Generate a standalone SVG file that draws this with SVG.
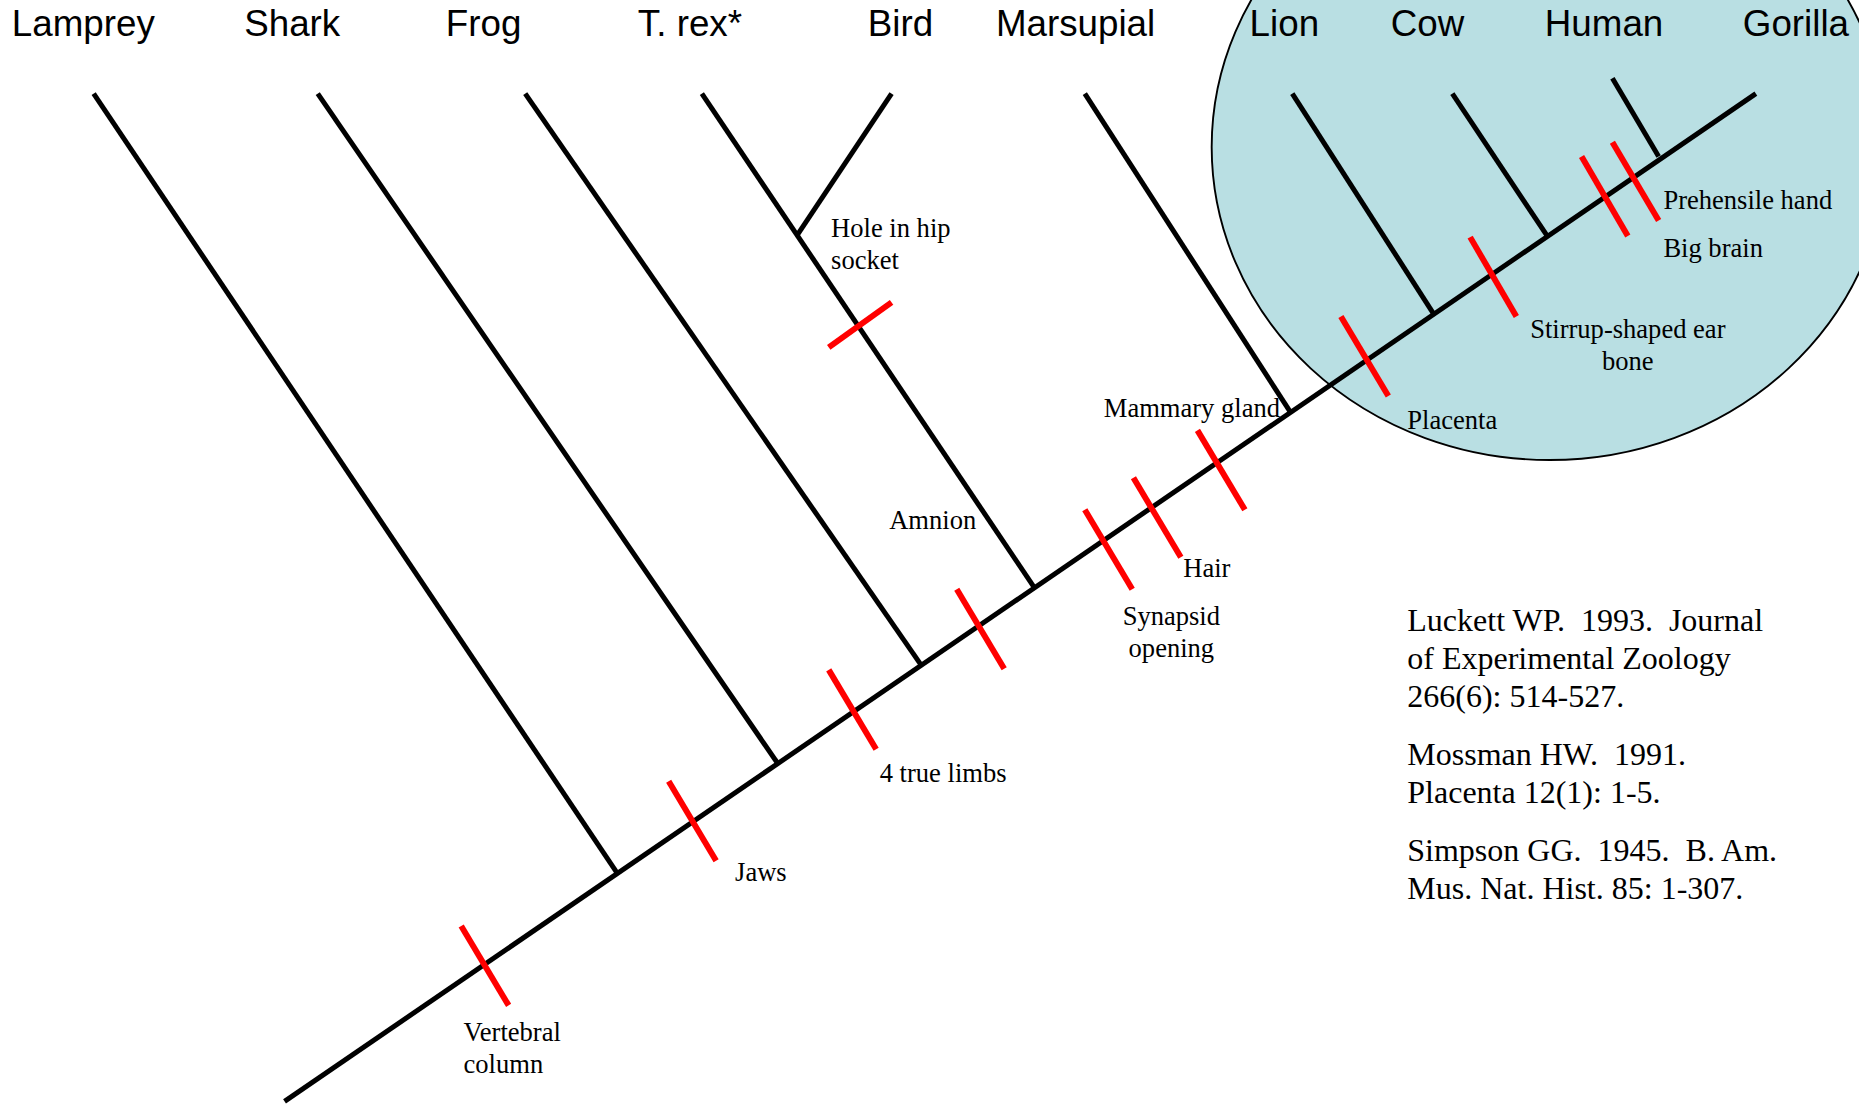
<svg xmlns="http://www.w3.org/2000/svg" width="1859" height="1105" viewBox="0 0 1859 1105">
<style>
.br{stroke:#000;stroke-width:4.2;fill:none;stroke-linecap:butt}
.tk{stroke:#ff0000;stroke-width:5;fill:none}
.tx{font-family:"Liberation Serif","Times New Roman",serif;font-size:22.4px;fill:#000}
.ref{font-family:"Liberation Serif","Times New Roman",serif;font-size:27px;fill:#000;white-space:pre}
.tl{font-family:"Liberation Sans",Arial,sans-serif;font-size:31px;fill:#000}
</style>
<rect width="1859" height="1105" fill="#fff"/>
<g transform="scale(1.18559)">
<g id="clade-highlight"><ellipse cx="1307" cy="124" rx="285" ry="264" fill="#b9dfe3" stroke="#000" stroke-width="1.6"/></g>
<g id="taxa">
<g id="lamprey"><text class="tl" x="10" y="30">Lamprey</text></g>
<g id="shark"><text class="tl" x="206" y="30">Shark</text></g>
<g id="frog"><text class="tl" x="376" y="30">Frog</text></g>
<g id="trex"><text class="tl" x="538" y="30">T. rex*</text></g>
<g id="bird"><text class="tl" x="732" y="30">Bird</text></g>
<g id="marsupial"><text class="tl" x="840" y="30">Marsupial</text></g>
<g id="lion"><text class="tl" x="1054" y="30">Lion</text></g>
<g id="cow"><text class="tl" x="1173" y="30">Cow</text></g>
<g id="human"><text class="tl" x="1303" y="30">Human</text></g>
<g id="gorilla"><text class="tl" x="1470" y="30">Gorilla</text></g>
</g>
<g id="connectors">
<line class="br" x1="240" y1="929" x2="1481" y2="79"/>
<line class="br" x1="79" y1="79" x2="521" y2="737"/>
<line class="br" x1="268" y1="79" x2="656" y2="644"/>
<line class="br" x1="443" y1="79" x2="777" y2="561"/>
<line class="br" x1="592" y1="79" x2="872" y2="495"/>
<line class="br" x1="752" y1="79" x2="672" y2="199"/>
<line class="br" x1="915" y1="79" x2="1088" y2="347"/>
<line class="br" x1="1090" y1="79" x2="1210" y2="266"/>
<line class="br" x1="1225" y1="79" x2="1305" y2="199"/>
<line class="br" x1="1360" y1="66" x2="1399" y2="132"/>
</g>
<g id="characters">
<g id="vertebral"><line class="tk" x1="389" y1="781" x2="429" y2="848"/><text class="tx" x="391" y="878">Vertebral</text><text class="tx" x="391" y="905">column</text></g>
<g id="jaws"><line class="tk" x1="564" y1="659" x2="604" y2="726"/><text class="tx" x="620" y="743">Jaws</text></g>
<g id="limbs"><line class="tk" x1="699" y1="565" x2="739" y2="632"/><text class="tx" x="742" y="660">4 true limbs</text></g>
<g id="amnion"><line class="tk" x1="807" y1="497" x2="847" y2="564"/><text class="tx" x="750" y="446">Amnion</text></g>
<g id="hip"><line class="tk" x1="699" y1="293" x2="752" y2="255"/><text class="tx" x="701" y="200">Hole in hip</text><text class="tx" x="701" y="227">socket</text></g>
<g id="synapsid"><line class="tk" x1="915" y1="430" x2="955" y2="497"/><text class="tx" x="988" y="527" text-anchor="middle">Synapsid</text><text class="tx" x="988" y="554" text-anchor="middle">opening</text></g>
<g id="hair"><line class="tk" x1="956" y1="403" x2="996" y2="470"/><text class="tx" x="998" y="487">Hair</text></g>
<g id="mammary"><line class="tk" x1="1010" y1="363" x2="1050" y2="430"/><text class="tx" x="931" y="352">Mammary gland</text></g>
<g id="placenta"><line class="tk" x1="1131" y1="267" x2="1171" y2="334"/><text class="tx" x="1187" y="362">Placenta</text></g>
<g id="stirrup"><line class="tk" x1="1240" y1="200" x2="1279" y2="267"/><text class="tx" x="1373" y="285" text-anchor="middle">Stirrup-shaped ear</text><text class="tx" x="1373" y="312" text-anchor="middle">bone</text></g>
<g id="bigbrain"><line class="tk" x1="1334" y1="132" x2="1373" y2="199"/><text class="tx" x="1403" y="217">Big brain</text></g>
<g id="prehensile"><line class="tk" x1="1360" y1="120" x2="1399" y2="186"/><text class="tx" x="1403" y="176">Prehensile hand</text></g>
</g>
<g id="references">
<text class="ref" x="1187" y="532" xml:space="preserve">Luckett WP.  1993.  Journal</text>
<text class="ref" x="1187" y="564">of Experimental Zoology</text>
<text class="ref" x="1187" y="596">266(6): 514-527.</text>
<text class="ref" x="1187" y="645" xml:space="preserve">Mossman HW.  1991.</text>
<text class="ref" x="1187" y="677">Placenta 12(1): 1-5.</text>
<text class="ref" x="1187" y="726" xml:space="preserve">Simpson GG.  1945.  B. Am.</text>
<text class="ref" x="1187" y="758">Mus. Nat. Hist. 85: 1-307.</text>
</g>
</g>
</svg>
